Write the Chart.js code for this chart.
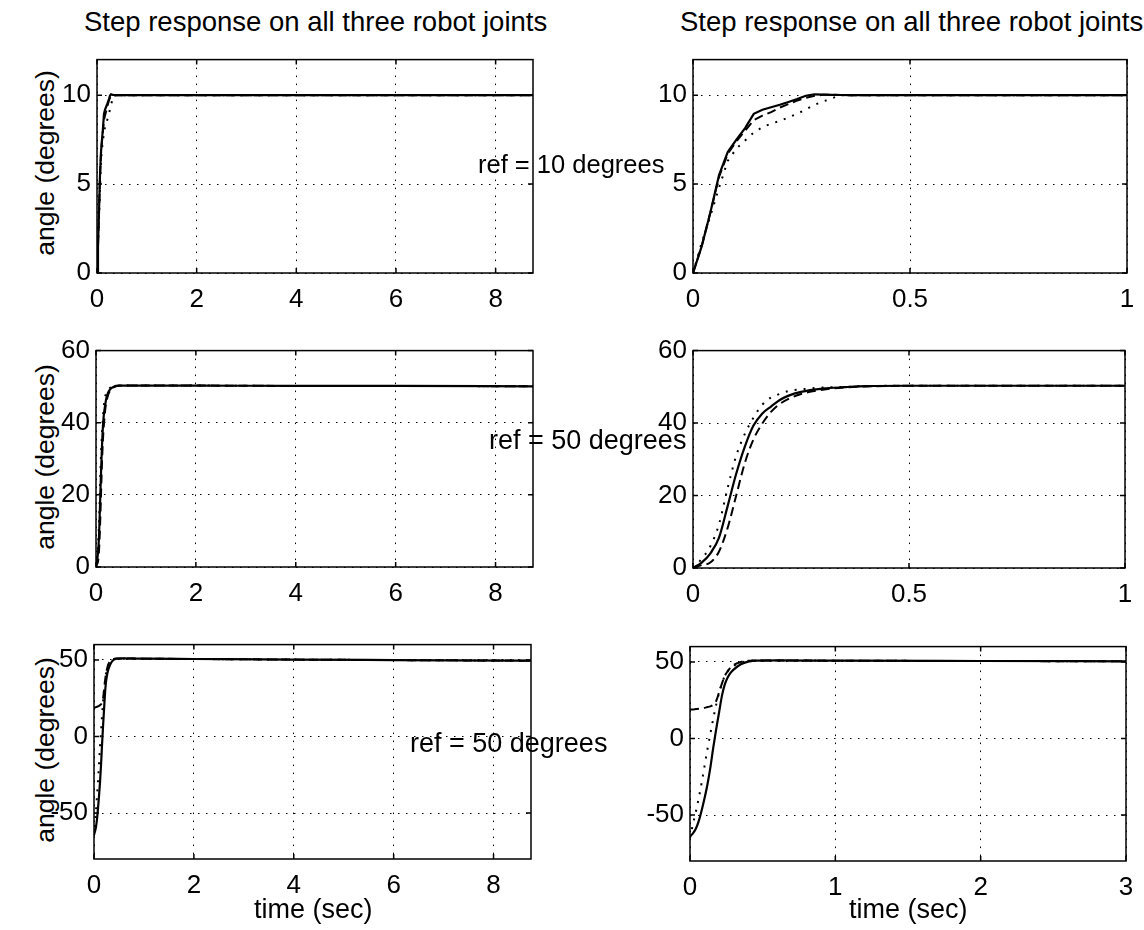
<!DOCTYPE html>
<html>
<head>
<meta charset="utf-8">
<script src="https://cdn.jsdelivr.net/npm/chart.js@4.4.1/dist/chart.umd.min.js"></script>
<style>
  body { margin: 0; background: #fff; }
  #page { position: relative; width: 1144px; height: 930px; overflow: hidden;
          font-family: "Liberation Sans", Arial, sans-serif; color: #000; }
  canvas { position: absolute; }
  .txt { position: absolute; white-space: nowrap; line-height: 1; z-index: 5; }
  .ylab { position: absolute; white-space: nowrap; line-height: 1; font-size: 26.5px;
          transform: translate(-50%, -50%) rotate(-90deg); }
</style>
</head>
<body>
<div id="page">
  <div class="txt" style="left:84px; top:8px; font-size:27.5px;">Step response on all three robot joints</div>
  <div class="txt" style="left:680px; top:8px; font-size:27.5px;">Step response on all three robot joints</div>

  <div class="ylab" style="left:45px; top:163px;">angle (degrees)</div>
  <div class="ylab" style="left:45px; top:457px;">angle (degrees)</div>
  <div class="ylab" style="left:45px; top:750px;">angle (degrees)</div>

  <div class="txt" style="left:254px; top:896px; font-size:27px;">time (sec)</div>
  <div class="txt" style="left:849px; top:896px; font-size:27px;">time (sec)</div>

  <div class="txt" style="left:478px; top:152px; font-size:25.5px;">ref = 10 degrees</div>
  <div class="txt" style="left:489px; top:427px; font-size:27px;">ref = 50 degrees</div>
  <div class="txt" style="left:410px; top:730px; font-size:27px;">ref = 50 degrees</div>
</div>

<script>
// --- tick positions ---
const xTicksLong = [0, 2, 4, 6, 8];
const xTicksOneSec = [0, 0.5, 1];
const xTicksThreeSec = [0, 1, 2, 3];
const yTicks10 = [0, 5, 10];
const yTicks50 = [0, 20, 40, 60];
const yTicksJoint3 = [-50, 0, 50];

// --- step to 10 degrees (time in sec, angle in degrees) ---
const tStep10 = [0, 0.02, 0.04, 0.06, 0.08, 0.10, 0.12, 0.14, 0.16, 0.18, 0.20, 0.22, 0.24, 0.26,
  0.28, 0.30, 0.32, 0.34, 0.36, 0.40, 0.50, 1, 2, 4, 6, 8, 8.75];
const solid10 = [0, 1.5, 3.4, 5.5, 6.8, 7.5, 8.15, 8.95, 9.18, 9.32, 9.46, 9.62, 9.78, 9.97,
  10.05, 10.03, 10.02, 10.01, 10, 10, 10, 10, 10, 10, 10, 10, 10];
const dashed10 = [0, 1.5, 3.4, 5.4, 6.7, 7.4, 8.0, 8.6, 8.85, 9.05, 9.3, 9.5, 9.7, 9.85,
  9.97, 10.02, 10.02, 10.01, 10, 10, 10, 10, 10, 10, 10, 10, 10];
const dotted10 = [0, 1.7, 3.2, 4.8, 6.3, 7.0, 7.45, 7.9, 8.2, 8.4, 8.55, 8.75, 8.95, 9.2,
  9.45, 9.65, 9.82, 10.0, 10, 10, 10, 10, 10, 10, 10, 10, 10];

// --- step to 50 degrees ---
const tStep50 = [0, 0.02, 0.04, 0.06, 0.08, 0.10, 0.12, 0.14, 0.16, 0.18, 0.20, 0.22, 0.25,
  0.30, 0.35, 0.40, 0.50, 0.7, 1, 2, 4, 6, 8.75];
const solid50 = [0, 1.5, 4, 8.3, 17, 26, 33.5, 39.3, 42.6, 44.5, 46.3, 47.5, 48.6,
  49.5, 49.9, 50.2, 50.3, 50.3, 50.3, 50.3, 50.2, 50.2, 50.1];
const dashed50 = [0, 0.8, 1.5, 4.5, 11, 20, 29, 35.5, 39.8, 43, 45.2, 46.6, 48,
  49.2, 49.8, 50.1, 50.3, 50.3, 50.3, 50.3, 50.2, 50.2, 50.1];
const dotted50 = [0, 2.5, 6, 12, 22, 31, 37, 41.5, 45, 47, 48, 48.8, 49.3,
  49.8, 50, 50.2, 50.3, 50.3, 50.3, 50.3, 50.2, 50.2, 50.1];

// --- step to 50 degrees, different starting angles ---
const tJoint3 = [0, 0.02, 0.04, 0.06, 0.08, 0.10, 0.12, 0.14, 0.16, 0.18, 0.20, 0.22, 0.24,
  0.26, 0.28, 0.30, 0.35, 0.40, 0.46, 0.6, 1, 2, 4, 6, 8.75];
const solidJ3 = [-64, -62, -59, -54, -47, -39, -30, -19, -6, 6, 17, 28, 35.5,
  40, 43, 45, 48.5, 50.2, 50.9, 51, 50.8, 50.6, 50.2, 49.9, 49.5];
const dashedJ3 = [19, 19, 19.2, 19.4, 19.7, 20, 20.5, 21, 22, 24.5, 30, 36, 41,
  44, 46.5, 48, 50, 50.7, 51, 51, 50.8, 50.6, 50.2, 49.9, 49.5];
const dottedJ3 = [-65, -56, -48, -39, -29, -18, -7, 3, 13, 22, 30, 36, 41,
  44, 46, 47.5, 49.5, 50.5, 51, 51, 50.8, 50.6, 50.2, 49.9, 49.5];

const FONT = '"Liberation Sans", Arial, sans-serif';
const Y_AXIS_W = 75, X_AXIS_H = 45, PAD_TOP = 16, PAD_RIGHT = 25;

// box round the plot area plus the small inward tick marks
const boxPlugin = {
  id: 'matlabBox',
  afterDraw(chart) {
    const { ctx, chartArea: a, scales: { x, y } } = chart;
    ctx.save();
    ctx.strokeStyle = '#000';
    ctx.lineWidth = 1.5;
    ctx.setLineDash([]);
    ctx.strokeRect(a.left, a.top, a.right - a.left, a.bottom - a.top);
    ctx.beginPath();
    x.ticks.forEach(tk => {
      const px = x.getPixelForValue(tk.value);
      ctx.moveTo(px, a.bottom); ctx.lineTo(px, a.bottom - 5);
      ctx.moveTo(px, a.top); ctx.lineTo(px, a.top + 5);
    });
    y.ticks.forEach(tk => {
      const py = y.getPixelForValue(tk.value);
      ctx.moveTo(a.left, py); ctx.lineTo(a.left + 5, py);
      ctx.moveTo(a.right, py); ctx.lineTo(a.right - 5, py);
    });
    ctx.stroke();
    ctx.restore();
  }
};

function series(t, v) {
  return t.map((tt, i) => ({ x: tt, y: v[i] }));
}

function panel(box, xMax, xTicks, yMin, yMax, yTicks, t, solid, dashed, dotted, smooth) {
  const [left, top, w, h] = box;
  const canvas = document.createElement('canvas');
  canvas.width = w + Y_AXIS_W + PAD_RIGHT;
  canvas.height = h + PAD_TOP + X_AXIS_H;
  canvas.style.left = (left - Y_AXIS_W) + 'px';
  canvas.style.top = (top - PAD_TOP) + 'px';
  document.getElementById('page').appendChild(canvas);

  const lineBase = {
    borderColor: '#000',
    pointRadius: 0,
    fill: false,
    tension: 0,
    cubicInterpolationMode: smooth ? 'monotone' : 'default'
  };

  const gridOpts = { color: '#000', lineWidth: 1, drawTicks: false };
  const borderOpts = { display: false, dash: [1.5, 6.5] };
  const tickFont = { family: FONT, size: 26 };

  new Chart(canvas.getContext('2d'), {
    type: 'line',
    data: {
      datasets: [
        { ...lineBase, data: series(t, dotted), borderWidth: 2, borderDash: [2, 7] },
        { ...lineBase, data: series(t, dashed), borderWidth: 2, borderDash: [9, 5] },
        { ...lineBase, data: series(t, solid), borderWidth: 2.2 }
      ]
    },
    options: {
      responsive: false,
      animation: false,
      layout: { padding: { left: 0, top: PAD_TOP, right: PAD_RIGHT, bottom: 0 } },
      plugins: { legend: { display: false }, tooltip: { enabled: false } },
      scales: {
        x: {
          type: 'linear', bounds: 'data', min: 0, max: xMax,
          afterFit: s => { s.height = X_AXIS_H; },
          afterBuildTicks: s => { s.ticks = xTicks.map(v => ({ value: v })); },
          grid: gridOpts, border: borderOpts,
          ticks: { color: '#000', font: tickFont, padding: 11, maxRotation: 0,
                   autoSkip: false, callback: v => String(v) }
        },
        y: {
          type: 'linear', bounds: 'data', min: yMin, max: yMax,
          afterFit: s => { s.width = Y_AXIS_W; },
          afterBuildTicks: s => { s.ticks = yTicks.map(v => ({ value: v })); },
          grid: gridOpts, border: borderOpts,
          ticks: { color: '#000', font: tickFont, padding: 6,
                   autoSkip: false, callback: v => String(v) }
        }
      }
    },
    plugins: [boxPlugin]
  });
}

panel([97, 54, 436, 219], 8.75, xTicksLong, 0, 12, yTicks10, tStep10, solid10, dashed10, dotted10, false);
panel([693, 54, 434, 219], 1, xTicksOneSec, 0, 12, yTicks10, tStep10, solid10, dashed10, dotted10, false);
panel([96, 345, 437, 222], 8.75, xTicksLong, 0, 60, yTicks50, tStep50, solid50, dashed50, dotted50, true);
panel([693, 345, 432, 223], 1, xTicksOneSec, 0, 60, yTicks50, tStep50, solid50, dashed50, dotted50, true);
panel([94, 639, 437, 220], 8.75, xTicksLong, -80, 60, yTicksJoint3, tJoint3, solidJ3, dashedJ3, dottedJ3, true);
panel([690, 641, 436, 220], 3, xTicksThreeSec, -80, 60, yTicksJoint3, tJoint3, solidJ3, dashedJ3, dottedJ3, true);
</script>
</body>
</html>
